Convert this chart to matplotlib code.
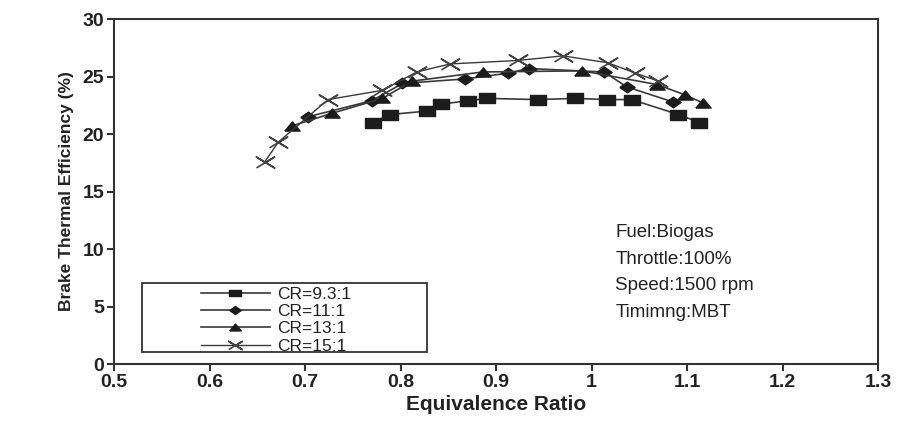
import matplotlib
matplotlib.use("Agg")
import matplotlib.pyplot as plt
from matplotlib.patches import Rectangle

plt.rcParams['font.family'] = ['Liberation Sans', 'DejaVu Sans']

# CR=9.3:1
phi_93 = [0.771, 0.789, 0.828, 0.842, 0.871, 0.891, 0.944, 0.983, 1.016, 1.042, 1.091, 1.113]
bte_93 = [21.0, 21.7, 22.0, 22.6, 22.9, 23.1, 23.0, 23.1, 23.0, 23.0, 21.7, 21.0]
# CR=11:1
phi_11 = [0.703, 0.770, 0.802, 0.868, 0.913, 0.934, 1.013, 1.037, 1.085]
bte_11 = [21.5, 22.9, 24.4, 24.8, 25.3, 25.7, 25.4, 24.1, 22.8]
# CR=13:1
phi_13 = [0.686, 0.728, 0.781, 0.812, 0.886, 0.990, 1.069, 1.098, 1.117]
bte_13 = [20.7, 21.8, 23.1, 24.6, 25.4, 25.5, 24.3, 23.4, 22.7]
# CR=15:1
phi_15 = [0.658, 0.672, 0.724, 0.781, 0.817, 0.852, 0.923, 0.970, 1.017, 1.046, 1.070]
bte_15 = [17.6, 19.3, 23.0, 23.8, 25.4, 26.1, 26.4, 26.8, 26.2, 25.3, 24.6]

labels = ['CR=9.3:1', 'CR=11:1', 'CR=13:1', 'CR=15:1']
notes = ['Fuel:Biogas', 'Throttle:100%', 'Speed:1500 rpm', 'Timimng:MBT']

# wide (stretched) marker shapes
sq = [(-1, -0.55), (1, -0.55), (1, 0.55), (-1, 0.55), (-1, -0.55)]
dia = [(-1, 0), (0, -0.7), (1, 0), (0, 0.7), (-1, 0)]
tri = [(-1, -0.6), (1, -0.6), (0, 0.6), (-1, -0.6)]
crs = [(-1, -0.6), (1, 0.6), (0, 0), (-1, 0.6), (1, -0.6), (0, 0)]

fig = plt.figure(figsize=(9, 4.24), dpi=100)
ax = fig.add_axes([0.1267, 0.1415, 0.8489, 0.8135])

lc = '#3a3a3a'
mc = '#1c1c1c'
ax.plot(phi_93, bte_93, color=lc, lw=1.2, marker=sq, ms=12, mfc=mc, mec=mc, label=labels[0])
ax.plot(phi_11, bte_11, color=lc, lw=1.2, marker=dia, ms=11, mfc=mc, mec=mc, label=labels[1])
ax.plot(phi_13, bte_13, color=lc, lw=1.2, marker=tri, ms=11, mfc=mc, mec=mc, label=labels[2])
ax.plot(phi_15, bte_15, color=lc, lw=1.0, marker=crs, ms=13, mfc='none', mec='#444444',
        mew=1.2, label=labels[3])

ax.set_xlim(0.5, 1.3)
ax.set_ylim(0, 30)
ax.set_xticks([0.5, 0.6, 0.7, 0.8, 0.9, 1.0, 1.1, 1.2, 1.3])
ax.set_xticklabels(['0.5', '0.6', '0.7', '0.8', '0.9', '1', '1.1', '1.2', '1.3'])
ax.set_yticks([0, 5, 10, 15, 20, 25, 30])

for s in ax.spines.values():
    s.set_linewidth(1.5)
    s.set_color('#333333')
ax.tick_params(direction='out', length=5, width=1.5, color='#333333',
               labelsize=14, labelcolor='#222222', pad=2)
for t in ax.get_xticklabels() + ax.get_yticklabels():
    t.set_fontweight('bold')

ax.set_xlabel('Equivalence Ratio', fontsize=15, fontweight='bold', color='#222222', labelpad=3)
ax.set_ylabel('Brake Thermal Efficiency (%)', fontsize=12.5, fontweight='bold',
              color='#222222', labelpad=6)

for i, n in enumerate(notes):
    ax.text(1.025, 11.4 - i * 2.3, n, fontsize=13.5, color='#222222', va='center', ha='left')

ax.add_patch(Rectangle((0.037, 0.035), 0.373, 0.2, transform=ax.transAxes,
                       fill=False, edgecolor='#333333', lw=1.3, zorder=5))
ax.legend(loc='center', bbox_to_anchor=(0.212, 0.127), frameon=False, fontsize=12.5,
          handlelength=4.0, handletextpad=0.4, labelspacing=0.12, borderpad=0.1,
          markerscale=0.75, labelcolor='#222222')

fig.savefig('out.png', dpi=100)
